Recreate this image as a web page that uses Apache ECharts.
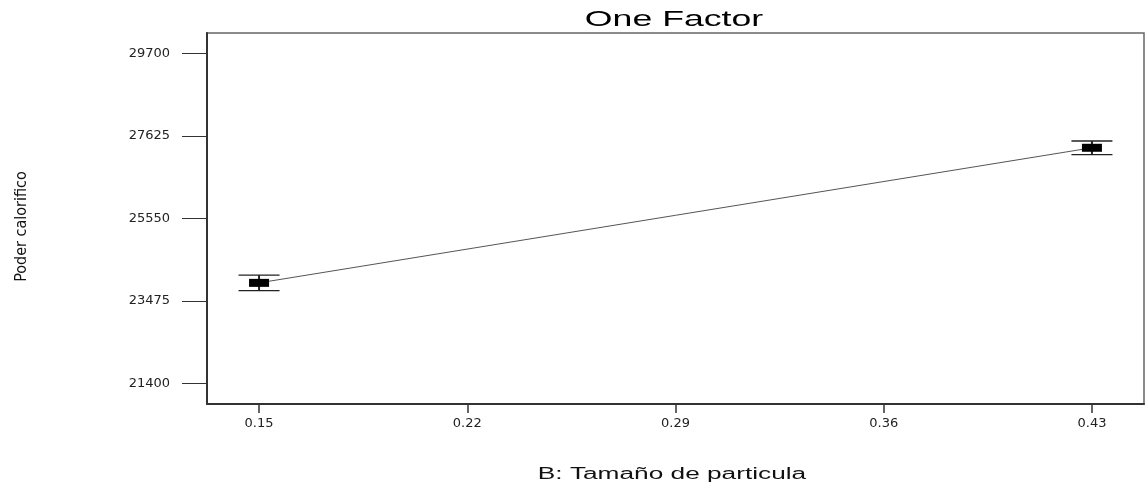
<!DOCTYPE html>
<html>
<head>
<meta charset="utf-8">
<script src="https://cdn.jsdelivr.net/npm/echarts@6/dist/echarts.min.js"></script>
<style>
  html, body { margin: 0; padding: 0; background: #fff; }
  #chart { width: 1146px; height: 487px; }
</style>
</head>
<body>
<div id="chart"></div>
<script>
// Factor levels and predicted response with its confidence limits
const factorLevels = [0.15, 0.43];
const predicted = [23930, 27330];
const lowerLimit = [23735, 27160];
const upperLimit = [24125, 27500];

const yTicks = [21400, 23475, 25550, 27625, 29700];
const xTicks = [0.15, 0.22, 0.29, 0.36, 0.43];

const chart = echarts.init(document.getElementById('chart'));

const lineData = factorLevels.map((x, i) => [x, predicted[i]]);
const barData = factorLevels.map((x, i) => [x, predicted[i], lowerLimit[i], upperLimit[i]]);

chart.setOption({
  animation: false,
  backgroundColor: '#fff',
  // Wide, horizontally stretched headings
  graphic: [
    {
      type: 'text', x: 674, y: 20, scaleX: 1.62,
      style: {
        text: 'One Factor', align: 'center', verticalAlign: 'middle',
        font: '22px "Liberation Sans"', fill: '#000'
      }
    },
    {
      type: 'text', x: 672, y: 475, scaleX: 1.64,
      style: {
        text: 'B: Tamaño de particula', align: 'center', verticalAlign: 'middle',
        font: '16px "Liberation Sans"', fill: '#111'
      }
    }
  ],
  grid: {
    left: 207, right: 2, top: 33, bottom: 83,
    show: true, borderColor: '#666', borderWidth: 1.5, backgroundColor: 'transparent'
  },
  xAxis: {
    type: 'value',
    min: 0.1325, max: 0.4475,
    axisLine: { show: true, lineStyle: { color: '#333', width: 2 } },
    axisTick: { show: true, length: 9, lineStyle: { color: '#333', width: 1.5 }, customValues: xTicks },
    axisLabel: {
      customValues: xTicks, margin: 13,
      fontFamily: 'DejaVu Sans', fontSize: 13, color: '#222',
      formatter: v => v.toFixed(2)
    },
    splitLine: { show: false }
  },
  yAxis: {
    type: 'value',
    min: 20881.25, max: 30218.75,
    name: 'Poder calorifico',
    nameLocation: 'middle',
    nameGap: 177,
    nameRotate: 90,
    nameTextStyle: {
      fontFamily: 'DejaVu Sans Condensed', fontSize: 16, color: '#111',
      padding: [0, 16, 0, 0]
    },
    axisLine: { show: true, lineStyle: { color: '#333', width: 2 } },
    axisTick: { show: true, length: 25, lineStyle: { color: '#333', width: 1 }, customValues: yTicks },
    axisLabel: {
      customValues: yTicks, margin: 37,
      fontFamily: 'DejaVu Sans', fontSize: 13, color: '#222',
      formatter: v => String(v)
    },
    splitLine: { show: false }
  },
  series: [
    {
      type: 'line',
      data: lineData,
      symbol: 'none',
      lineStyle: { color: '#555', width: 1 },
      z: 2
    },
    {
      type: 'custom',
      data: barData,
      z: 3,
      renderItem: function (params, api) {
        const x = api.value(0);
        const c = api.coord([x, api.value(1)]);
        const lo = api.coord([x, api.value(2)]);
        const hi = api.coord([x, api.value(3)]);
        const capHalf = 20.5;
        const boxW = 20, boxH = 8;
        const stroke = { stroke: '#222', lineWidth: 1.3 };
        return {
          type: 'group',
          children: [
            { type: 'line', shape: { x1: c[0], y1: hi[1], x2: c[0], y2: lo[1] }, style: { stroke: '#222', lineWidth: 2 } },
            { type: 'line', shape: { x1: c[0] - capHalf, y1: hi[1], x2: c[0] + capHalf, y2: hi[1] }, style: stroke },
            { type: 'line', shape: { x1: c[0] - capHalf, y1: lo[1], x2: c[0] + capHalf, y2: lo[1] }, style: stroke },
            { type: 'rect', shape: { x: c[0] - boxW / 2, y: c[1] - boxH / 2, width: boxW, height: boxH }, style: { fill: '#000' } }
          ]
        };
      }
    }
  ]
});
</script>
</body>
</html>
